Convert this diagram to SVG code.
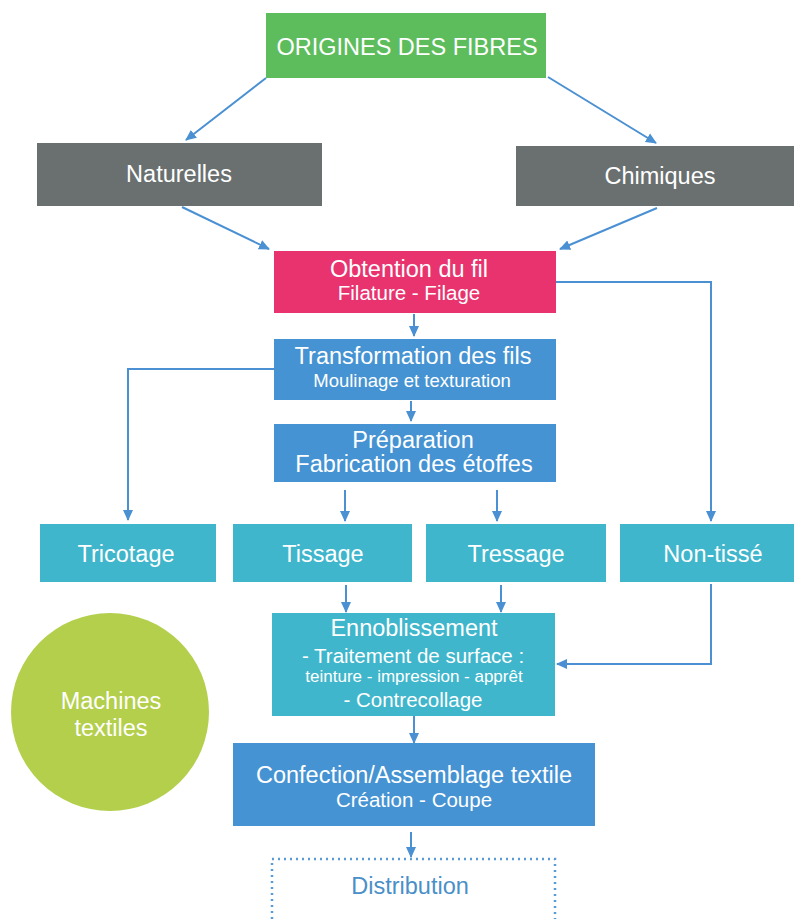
<svg xmlns="http://www.w3.org/2000/svg" width="794" height="919" viewBox="0 0 794 919">
<defs>
<marker id="ah" markerUnits="userSpaceOnUse" markerWidth="12" markerHeight="12" viewBox="0 0 12 12" refX="10" refY="6" orient="auto">
<path d="M0,1 L11,6 L0,11 Z" fill="#4a90d2"/>
</marker>
<style>
text{font-family:"Liberation Sans",Arial,sans-serif;fill:#ffffff;text-anchor:middle}
.t{font-size:23.5px}
.s{font-size:20.5px}
.xs{font-size:18.5px}
.c{fill:none;stroke:#4a90d2;stroke-width:2}
.a{marker-end:url(#ah)}
</style>
</defs>
<rect width="794" height="919" fill="#ffffff"/>
<g id="connectors">
<line class="c a" x1="266" y1="78" x2="186" y2="140"/>
<line class="c a" x1="548" y1="77" x2="656" y2="143"/>
<line class="c a" x1="182" y1="207" x2="269" y2="249"/>
<line class="c a" x1="657" y1="208" x2="560" y2="249"/>
<line class="c a" x1="414" y1="314" x2="414" y2="336"/>
<polyline class="c a" points="274,369 128,369 128,520"/>
<line class="c a" x1="411" y1="401" x2="411" y2="421"/>
<line class="c a" x1="345" y1="490" x2="345" y2="521"/>
<line class="c a" x1="497" y1="490" x2="497" y2="521"/>
<polyline class="c a" points="556,282 711,282 711,521"/>
<line class="c a" x1="346" y1="585" x2="346" y2="612"/>
<line class="c a" x1="501" y1="585" x2="501" y2="612"/>
<polyline class="c a" points="711,584 711,664 557,664"/>
<line class="c a" x1="414" y1="716" x2="414" y2="743"/>
<line class="c a" x1="411" y1="832" x2="411" y2="857"/>
</g>
<g id="origines"><rect x="266" y="13" width="280" height="65" fill="#5dbd5d"/><text class="t" x="407" y="55">ORIGINES DES FIBRES</text></g>
<g id="naturelles"><rect x="37" y="143" width="285" height="63" fill="#6a7070"/><text class="t" x="179" y="182">Naturelles</text></g>
<g id="chimiques"><rect x="516" y="146" width="278" height="60" fill="#6a7070"/><text class="t" x="660" y="184">Chimiques</text></g>
<g id="obtention"><rect x="274" y="251" width="282" height="62" fill="#e8336f"/><text class="t" x="409" y="277">Obtention du fil</text><text class="s" x="409" y="300">Filature - Filage</text></g>
<g id="transformation"><rect x="274" y="339" width="282" height="61" fill="#4593d2"/><text class="t" x="413" y="364">Transformation des fils</text><text class="xs" x="412" y="387">Moulinage et texturation</text></g>
<g id="preparation"><rect x="274" y="424" width="282" height="58" fill="#4593d2"/><text class="t" x="413" y="448">Préparation</text><text class="t" x="414" y="472">Fabrication des étoffes</text></g>
<g id="tricotage"><rect x="40" y="524" width="176" height="58" fill="#3fb6cb"/><text class="t" x="126" y="562">Tricotage</text></g>
<g id="tissage"><rect x="233" y="524" width="179" height="58" fill="#3fb6cb"/><text class="t" x="323" y="562">Tissage</text></g>
<g id="tressage"><rect x="426" y="524" width="180" height="58" fill="#3fb6cb"/><text class="t" x="516" y="562">Tressage</text></g>
<g id="nontisse"><rect x="620" y="524" width="174" height="58" fill="#3fb6cb"/><text class="t" x="713" y="562">Non-tissé</text></g>
<g id="ennoblissement"><rect x="272" y="613" width="283" height="103" fill="#3fb6cb"/><text class="t" x="414" y="636">Ennoblissement</text><text class="s" x="413" y="663">- Traitement de surface :</text><text class="xs" x="414" y="682" style="font-size:17px">teinture - impression - apprêt</text><text class="s" x="413" y="707">- Contrecollage</text></g>
<g id="machines"><circle cx="110" cy="712" r="99" fill="#b3cf4b"/><text class="t" x="111" y="709">Machines</text><text class="t" x="111" y="736">textiles</text></g>
<g id="confection"><rect x="233" y="743" width="362" height="83" fill="#4593d2"/><text class="t" x="414" y="783">Confection/Assemblage textile</text><text class="s" x="414" y="807">Création - Coupe</text></g>
<g id="distribution"><rect x="272" y="859" width="283" height="80" fill="none" stroke="#5b9bd5" stroke-width="2.5" stroke-dasharray="2 4"/><text class="t" x="410" y="894" style="fill:#4a8fc8">Distribution</text></g>
</svg>
